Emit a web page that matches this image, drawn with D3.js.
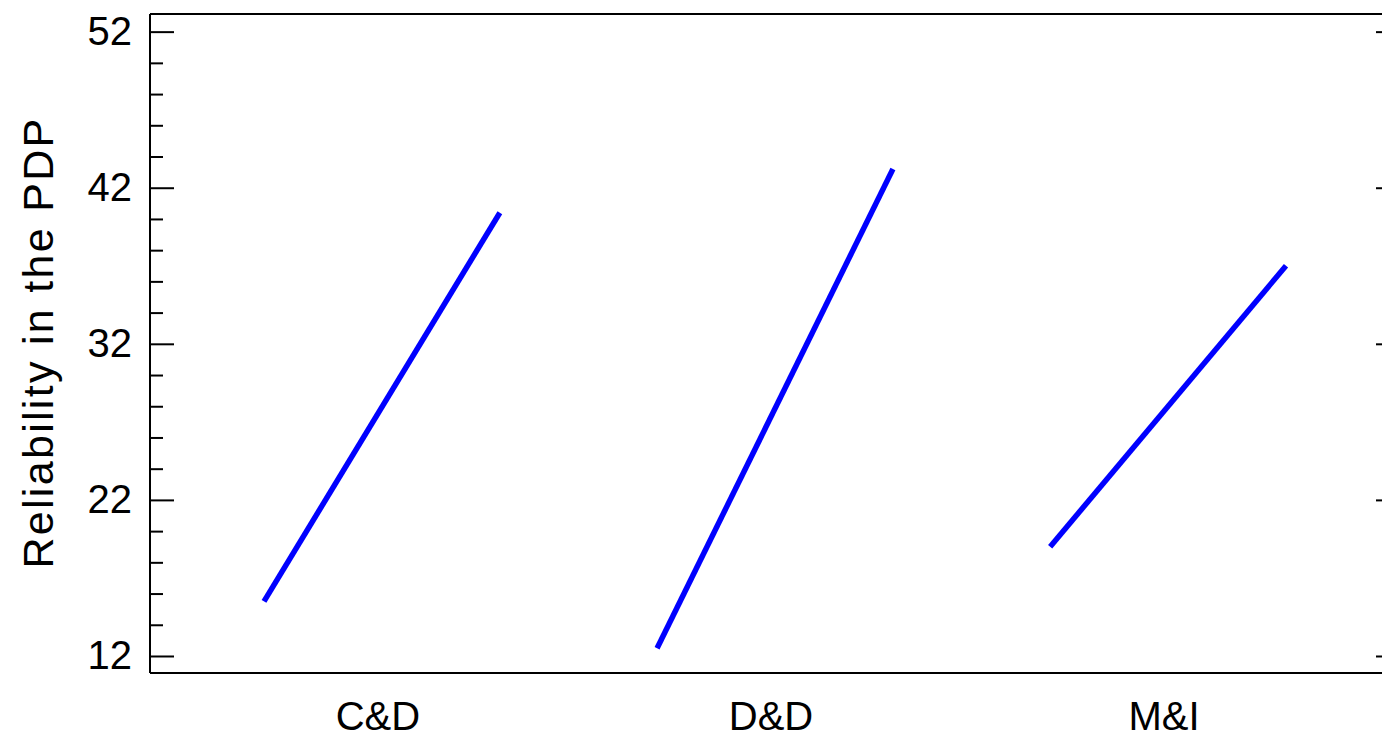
<!DOCTYPE html>
<html>
<head>
<meta charset="utf-8">
<script src="https://cdn.jsdelivr.net/npm/d3@7"></script>
<style>
  html, body { margin: 0; padding: 0; background: #fff; }
  svg { display: block; font-family: "Liberation Sans", Arial, sans-serif; }
</style>
</head>
<body>
<svg id="chart" width="1382" height="739"></svg>
<script>
// ---- data ----
const categories = ["C&D", "D&D", "M&I"];
const startValues = [15.5, 12.5, 19.0];   // level 1 (left end of each line)
const endValues   = [40.4, 43.2, 37.0];   // level 2 (right end of each line)
const majorTicks = [12, 22, 32, 42, 52];
const minorTicks = [14, 16, 18, 20, 24, 26, 28, 30, 34, 36, 38, 40, 44, 46, 48, 50];
const yTitle = "Reliability in the PDP";

(function () {
// ---- layout ----
const svg = d3.select("#chart");
const pL = 150, pR = 1400, pT = 14, pB = 673;
const halfSpan = 0.3;

const x = d3.scaleLinear().domain([0.41, 3.59]).range([pL, pR]);
const y = d3.scaleLinear().domain([10.91, 53.13]).range([pB, pT]);

// lines
const lineGen = d3.line().x(d => x(d[0])).y(d => y(d[1]));
categories.forEach((c, i) => {
  const pos = i + 1;
  svg.append("path")
    .datum([[pos - halfSpan, startValues[i]], [pos + halfSpan, endValues[i]]])
    .attr("d", lineGen)
    .attr("fill", "none")
    .attr("stroke", "#0000ff")
    .attr("stroke-width", 5.5)
    .attr("stroke-linecap", "butt");
});

// frame
const frame = [[pL, pT, pR, pT], [pL, pB, pR, pB], [pL, pT, pL, pB], [pR, pT, pR, pB]];
svg.selectAll("line.frame").data(frame).enter().append("line")
  .attr("class", "frame")
  .attr("x1", d => d[0]).attr("y1", d => d[1]).attr("x2", d => d[2]).attr("y2", d => d[3])
  .attr("stroke", "#000").attr("stroke-width", 2);

// left axis major
const gL = svg.append("g").attr("transform", `translate(${pL},0)`)
  .call(d3.axisLeft(y).tickValues(majorTicks).tickSize(-24).tickPadding(18).tickFormat(d3.format("d")));
gL.select(".domain").remove();
gL.selectAll(".tick line").attr("stroke", "#000").attr("stroke-width", 2);
gL.selectAll(".tick text").attr("font-size", 40).attr("fill", "#000")
  .attr("font-family", "'Liberation Sans', Arial, sans-serif");

// left axis minor
const gLm = svg.append("g").attr("transform", `translate(${pL},0)`)
  .call(d3.axisLeft(y).tickValues(minorTicks).tickSize(-13).tickFormat(""));
gLm.select(".domain").remove();
gLm.selectAll(".tick line").attr("stroke", "#000").attr("stroke-width", 2);

// right axis
const gR = svg.append("g").attr("transform", `translate(${pR},0)`)
  .call(d3.axisRight(y).tickValues(majorTicks).tickSize(-24).tickFormat(""));
gR.select(".domain").remove();
gR.selectAll(".tick line").attr("stroke", "#000").attr("stroke-width", 2);
const gRm = svg.append("g").attr("transform", `translate(${pR},0)`)
  .call(d3.axisRight(y).tickValues(minorTicks).tickSize(-13).tickFormat(""));
gRm.select(".domain").remove();
gRm.selectAll(".tick line").attr("stroke", "#000").attr("stroke-width", 2);

// x category labels
svg.selectAll("text.cat").data(categories).enter().append("text")
  .attr("class", "cat")
  .attr("x", (d, i) => x(i + 1) - 4)
  .attr("y", 730)
  .attr("text-anchor", "middle")
  .attr("font-size", 40)
  .attr("fill", "#000")
  .text(d => d);

// y title
svg.append("text")
  .attr("transform", `translate(53,342.5) rotate(-90)`)
  .attr("text-anchor", "middle")
  .attr("font-size", 43)
  .attr("letter-spacing", "2.3px")
  .attr("fill", "#000")
  .text(yTitle);
})();
</script>
</body>
</html>
